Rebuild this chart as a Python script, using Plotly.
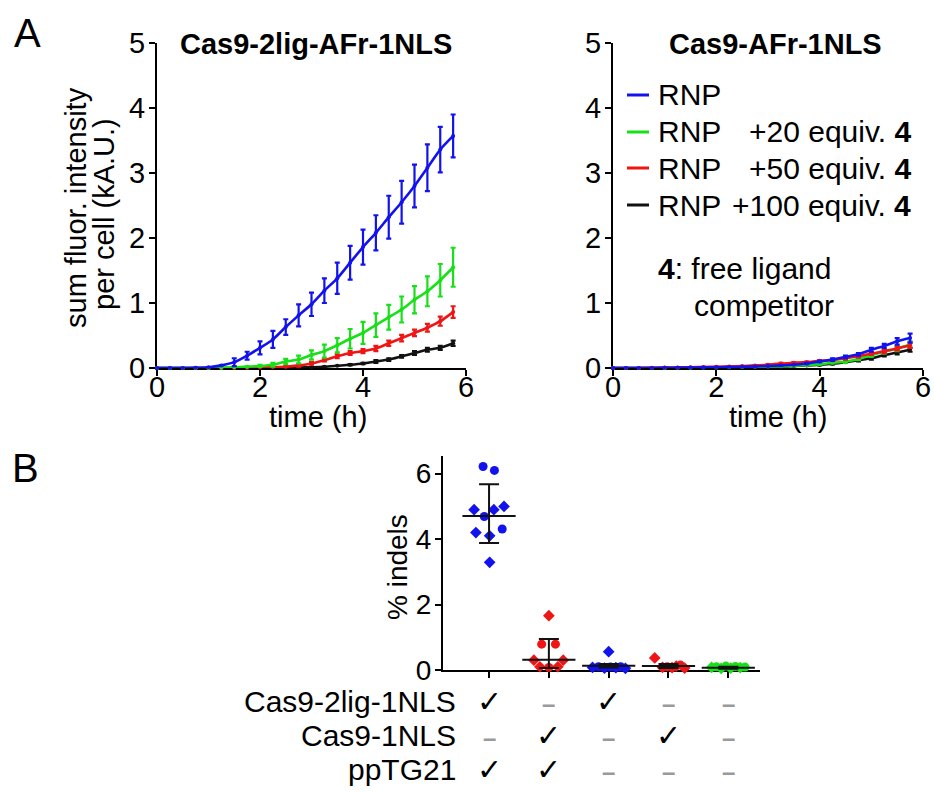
import plotly.graph_objects as go

W, H = 934, 792
FONT = "Liberation Sans, Arial, sans-serif"
BLUE, GREEN, RED, BLACK = "#1212ee", "#18e018", "#f01414", "#111111"

# ---------------- data: panel A ----------------
time_h = [0.0, 0.25, 0.5, 0.75, 1.0, 1.25, 1.5, 1.75, 2.0, 2.25, 2.5, 2.75,
          3.0, 3.25, 3.5, 3.75, 4.0, 4.25, 4.5, 4.75, 5.0, 5.25, 5.5, 5.75]

# left panel: Cas9-2lig-AFr-1NLS
L_rnp = [0, 0, 0, 0.003, 0.012, 0.04, 0.09, 0.19, 0.31, 0.44, 0.63, 0.81,
         0.98, 1.19, 1.38, 1.62, 1.86, 2.08, 2.32, 2.55, 2.8, 3.08, 3.36, 3.57]
L_rnp_err = [0, 0, 0, 0, 0, 0, 0.06, 0.06, 0.1, 0.13, 0.12, 0.17,
             0.18, 0.19, 0.24, 0.26, 0.27, 0.27, 0.33, 0.33, 0.33, 0.36, 0.35, 0.33]
L_20 = [0, 0, 0, 0, 0, 0.005, 0.01, 0.02, 0.03, 0.05, 0.1, 0.13,
        0.2, 0.26, 0.35, 0.45, 0.54, 0.66, 0.78, 0.9, 1.05, 1.18, 1.35, 1.55]
L_20_err = [0, 0, 0, 0, 0, 0, 0, 0, 0.02, 0.03, 0.04, 0.06,
            0.07, 0.1, 0.11, 0.15, 0.17, 0.18, 0.19, 0.2, 0.21, 0.23, 0.25, 0.3]
L_50 = [0, 0, 0, 0, 0, 0, 0, 0.005, 0.01, 0.015, 0.02, 0.04,
        0.07, 0.12, 0.18, 0.23, 0.26, 0.3, 0.38, 0.46, 0.54, 0.62, 0.72, 0.86]
L_50_err = [0, 0, 0, 0, 0, 0, 0, 0, 0, 0, 0.01, 0.02,
            0.02, 0.02, 0.03, 0.03, 0.03, 0.04, 0.04, 0.05, 0.05, 0.06, 0.07, 0.09]
L_100 = [0, 0, 0, 0, 0, 0, 0, 0, 0, 0, 0.005, 0.008,
         0.012, 0.02, 0.035, 0.05, 0.07, 0.1, 0.13, 0.18, 0.23, 0.28, 0.31, 0.38]
L_100_err = [0, 0, 0, 0, 0, 0, 0, 0, 0, 0, 0, 0,
             0, 0, 0, 0.01, 0.01, 0.02, 0.02, 0.02, 0.03, 0.03, 0.03, 0.04]

# right panel: Cas9-AFr-1NLS
R_rnp = [0, 0, 0, 0, 0.003, 0.005, 0.007, 0.009, 0.011, 0.014, 0.018, 0.024,
         0.03, 0.04, 0.05, 0.07, 0.1, 0.13, 0.17, 0.21, 0.28, 0.34, 0.41, 0.46]
R_rnp_err = [0, 0, 0, 0, 0, 0, 0, 0, 0, 0, 0, 0,
             0, 0, 0, 0.01, 0.01, 0.02, 0.02, 0.02, 0.03, 0.03, 0.05, 0.07]
R_20 = [0, 0, 0, 0, 0, 0.003, 0.005, 0.007, 0.009, 0.011, 0.014, 0.018,
        0.022, 0.027, 0.035, 0.045, 0.06, 0.08, 0.1, 0.14, 0.2, 0.25, 0.3, 0.36]
R_20_err = [0, 0, 0, 0, 0, 0, 0, 0, 0, 0, 0, 0,
            0, 0, 0, 0, 0.01, 0.01, 0.02, 0.02, 0.03, 0.03, 0.04, 0.05]
R_50 = [0, 0, 0, 0.003, 0.006, 0.009, 0.012, 0.016, 0.02, 0.025, 0.03, 0.04,
        0.05, 0.07, 0.08, 0.09, 0.11, 0.12, 0.15, 0.18, 0.22, 0.26, 0.3, 0.35]
R_50_err = [0, 0, 0, 0, 0, 0, 0, 0, 0, 0, 0, 0,
            0.01, 0.01, 0.01, 0.01, 0.01, 0.01, 0.02, 0.02, 0.02, 0.03, 0.03, 0.04]
R_100 = [0, 0, 0, 0, 0, 0, 0, 0.003, 0.005, 0.008, 0.01, 0.014,
         0.018, 0.022, 0.03, 0.04, 0.05, 0.065, 0.09, 0.12, 0.15, 0.2, 0.24, 0.28]
R_100_err = [0, 0, 0, 0, 0, 0, 0, 0, 0, 0, 0, 0,
             0, 0, 0, 0, 0.01, 0.01, 0.01, 0.02, 0.02, 0.02, 0.03, 0.03]

legend_labels = ["RNP", "RNP", "RNP", "RNP"]
legend_suffix = ["", "+20 equiv. <b>4</b>", "+50 equiv. <b>4</b>", "+100 equiv. <b>4</b>"]
legend_colors = [BLUE, GREEN, RED, BLACK]

# ---------------- data: panel B ----------------
group_pos = [0, 1, 2, 3, 4]
group_colors = [BLUE, RED, BLUE, RED, GREEN]
group_values = [
    [6.22, 6.1, 4.9, 4.9, 5.0, 4.69, 4.31, 4.2, 4.1, 3.29],
    [1.66, 0.79, 0.79, 0.3, 0.3, 0.1, 0.08, 0.1],
    [0.56, 0.08, 0.1, 0.06, 0.09, 0.07, 0.1, 0.05],
    [0.37, 0.08, 0.1, 0.07, 0.12, 0.15, 0.06],
    [0.08, 0.1, 0.05, 0.12, 0.06, 0.11, 0.07, 0.09],
]
group_symbols = [
    ["circle", "circle", "diamond", "diamond", "diamond", "circle", "circle", "diamond", "diamond", "diamond"],
    ["diamond", "circle", "circle", "diamond", "diamond", "diamond", "circle", "diamond"],
    ["diamond", "diamond", "circle", "diamond", "circle", "diamond", "circle", "diamond"],
    ["diamond", "diamond", "circle", "diamond", "diamond", "circle", "diamond"],
    ["diamond", "circle", "diamond", "circle", "diamond", "circle", "diamond", "circle"],
]
group_jitter = [
    [-0.1, 0.09, -0.25, 0.08, 0.25, -0.08, 0.22, -0.22, 0.01, 0.01],
    [0.0, -0.12, 0.11, -0.25, 0.24, -0.15, 0.0, 0.15],
    [0.0, -0.27, -0.17, -0.07, 0.03, 0.12, 0.2, 0.28],
    [-0.23, -0.1, -0.02, 0.06, 0.13, 0.2, 0.27],
    [-0.28, -0.2, -0.12, -0.04, 0.04, 0.12, 0.2, 0.28],
]
group_center = [4.71, 0.31, 0.13, 0.12, 0.07]
group_err_up = [0.97, 0.64, 0.05, 0.06, 0.03]
group_err_down = [0.83, 0.25, 0.05, 0.06, 0.03]

table_rows = ["Cas9-2lig-1NLS", "Cas9-1NLS", "ppTG21"]
table_marks = [[1, 0, 1, 0, 0],
               [0, 1, 0, 1, 0],
               [1, 1, 0, 0, 0]]


def px_x(p):
    return p / W


def px_y(p):
    return 1 - p / H


fig = go.Figure()


def add_curves(series, xa, ya):
    for vals, errs, col in series:
        fig.add_trace(go.Scatter(
            x=time_h, y=vals, xaxis=xa, yaxis=ya, mode="lines+markers",
            line=dict(color=col, width=2.6, shape="spline", smoothing=0.7),
            marker=dict(color=col, size=4),
            error_y=dict(type="data", array=errs, visible=True, color=col,
                         thickness=2.2, width=2.5),
            showlegend=False, hoverinfo="skip", cliponaxis=False))


add_curves([(L_100, L_100_err, BLACK), (L_50, L_50_err, RED),
            (L_20, L_20_err, GREEN), (L_rnp, L_rnp_err, BLUE)], "x", "y")
add_curves([(R_100, R_100_err, BLACK), (R_20, R_20_err, GREEN),
            (R_50, R_50_err, RED), (R_rnp, R_rnp_err, BLUE)], "x2", "y2")

# panel B points
for pos, vals, syms, jit, col in zip(group_pos, group_values, group_symbols,
                                     group_jitter, group_colors):
    fig.add_trace(go.Scatter(
        x=[pos + j for j in jit], y=vals, xaxis="x3", yaxis="y3", mode="markers",
        marker=dict(color=col, size=9, symbol=syms, line=dict(width=0)),
        showlegend=False, hoverinfo="skip", cliponaxis=False))

fig.add_trace(go.Scatter(
    x=group_pos, y=group_center, xaxis="x3", yaxis="y3", mode="markers",
    marker=dict(symbol="line-ew", size=38, color=BLACK,
                line=dict(color=BLACK, width=2)),
    error_y=dict(type="data", array=group_err_up, arrayminus=group_err_down,
                 visible=True, color=BLACK, thickness=2, width=10),
    showlegend=False, hoverinfo="skip", cliponaxis=False))


def axis(domain, rng, anchor, tickvals, ticktext=None, size=29, standoff=0):
    d = dict(domain=domain, range=rng, anchor=anchor, tickmode="array",
             tickvals=tickvals, ticks="outside", ticklen=6, tickwidth=2,
             tickcolor="black", showline=True, linewidth=2, linecolor="black",
             showgrid=False, zeroline=False, layer="below traces",
             tickfont=dict(family=FONT, size=size, color="black"),
             ticklabelstandoff=standoff, automargin=False, fixedrange=True)
    if ticktext is not None:
        d["ticktext"] = ticktext
    return d


top_y_dom = [px_y(368), px_y(43)]
fig.update_layout(
    width=W, height=H, margin=dict(l=0, r=0, t=0, b=0, pad=0),
    paper_bgcolor="white", plot_bgcolor="white",
    font=dict(family=FONT, color="black"),
    xaxis=axis([px_x(157), px_x(466)], [0, 6], "y", [0, 2, 4, 6], standoff=-14),
    yaxis=axis(top_y_dom, [0, 5], "x", [0, 1, 2, 3, 4, 5], standoff=-2),
    xaxis2=axis([px_x(613), px_x(923)], [0, 6], "y2", [0, 2, 4, 6], standoff=-14),
    yaxis2=axis(top_y_dom, [0, 5], "x2", [0, 1, 2, 3, 4, 5], standoff=-2),
    xaxis3=axis([px_x(443), px_x(760)], [-0.77, 4.53], "y3", group_pos,
                ["" for _ in group_pos]),
    yaxis3=axis([px_y(670), px_y(456)], [0, 6.54], "x3", [0, 2, 4, 6], size=28,
                standoff=-2),
)

ann = []


def text(t, x, y, size=28, xanchor="center", yanchor="middle", angle=0,
         color="black", xref="paper"):
    ann.append(dict(text=t, x=x, y=y, xref=xref, yref="paper", showarrow=False,
                    xanchor=xanchor, yanchor=yanchor, textangle=angle,
                    font=dict(family=FONT, size=size, color=color)))


# panel labels
text("A", px_x(27), px_y(33), size=40)
text("B", px_x(25), px_y(468), size=40)

# titles
text("<b>Cas9-2lig-AFr-1NLS</b>", px_x(316), px_y(44), size=29)
text("<b>Cas9-AFr-1NLS</b>", px_x(775), px_y(44), size=29)

# axis titles
text("sum fluor. intensity", px_x(76), px_y(208), angle=-90, size=29)
text("per cell (kA.U.)", px_x(104), px_y(214), angle=-90, size=29)
text("time (h)", px_x(318), px_y(417), size=29)
text("time (h)", px_x(778), px_y(417), size=29)
text("% indels", px_x(397), px_y(567), angle=-90, size=28)

# legend (top-right panel)
legend_y = [95, 132, 168, 205]
shapes = []
for lab, suf, col, yy in zip(legend_labels, legend_suffix, legend_colors, legend_y):
    shapes.append(dict(type="line", xref="paper", yref="paper",
                       x0=px_x(627), x1=px_x(649), y0=px_y(yy), y1=px_y(yy),
                       line=dict(color=col, width=3)))
    text(lab, px_x(656), px_y(yy), xanchor="left", size=30)
    if suf:
        text(suf, px_x(913), px_y(yy), xanchor="right", size=30)

text("<b>4</b>: free ligand", px_x(656), px_y(268), xanchor="left", size=30)
text("competitor", px_x(764), px_y(305), size=30)

# table under panel B
row_y = [701, 735, 769]
for lab, marks, yy in zip(table_rows, table_marks, row_y):
    text(lab, px_x(458), px_y(yy), xanchor="right", size=30)
    for pos, m in zip(group_pos, marks):
        if m:
            text("\u2713", pos, px_y(yy), size=30, xref="x3")
        else:
            text("<b>\u2013</b>", pos, px_y(yy + 2), size=24, color="#9a9a9a", xref="x3")

fig.update_layout(annotations=ann, shapes=shapes)
fig.write_html("out.html", config={"displayModeBar": False},
               post_script="document.body.style.margin='0px';")
